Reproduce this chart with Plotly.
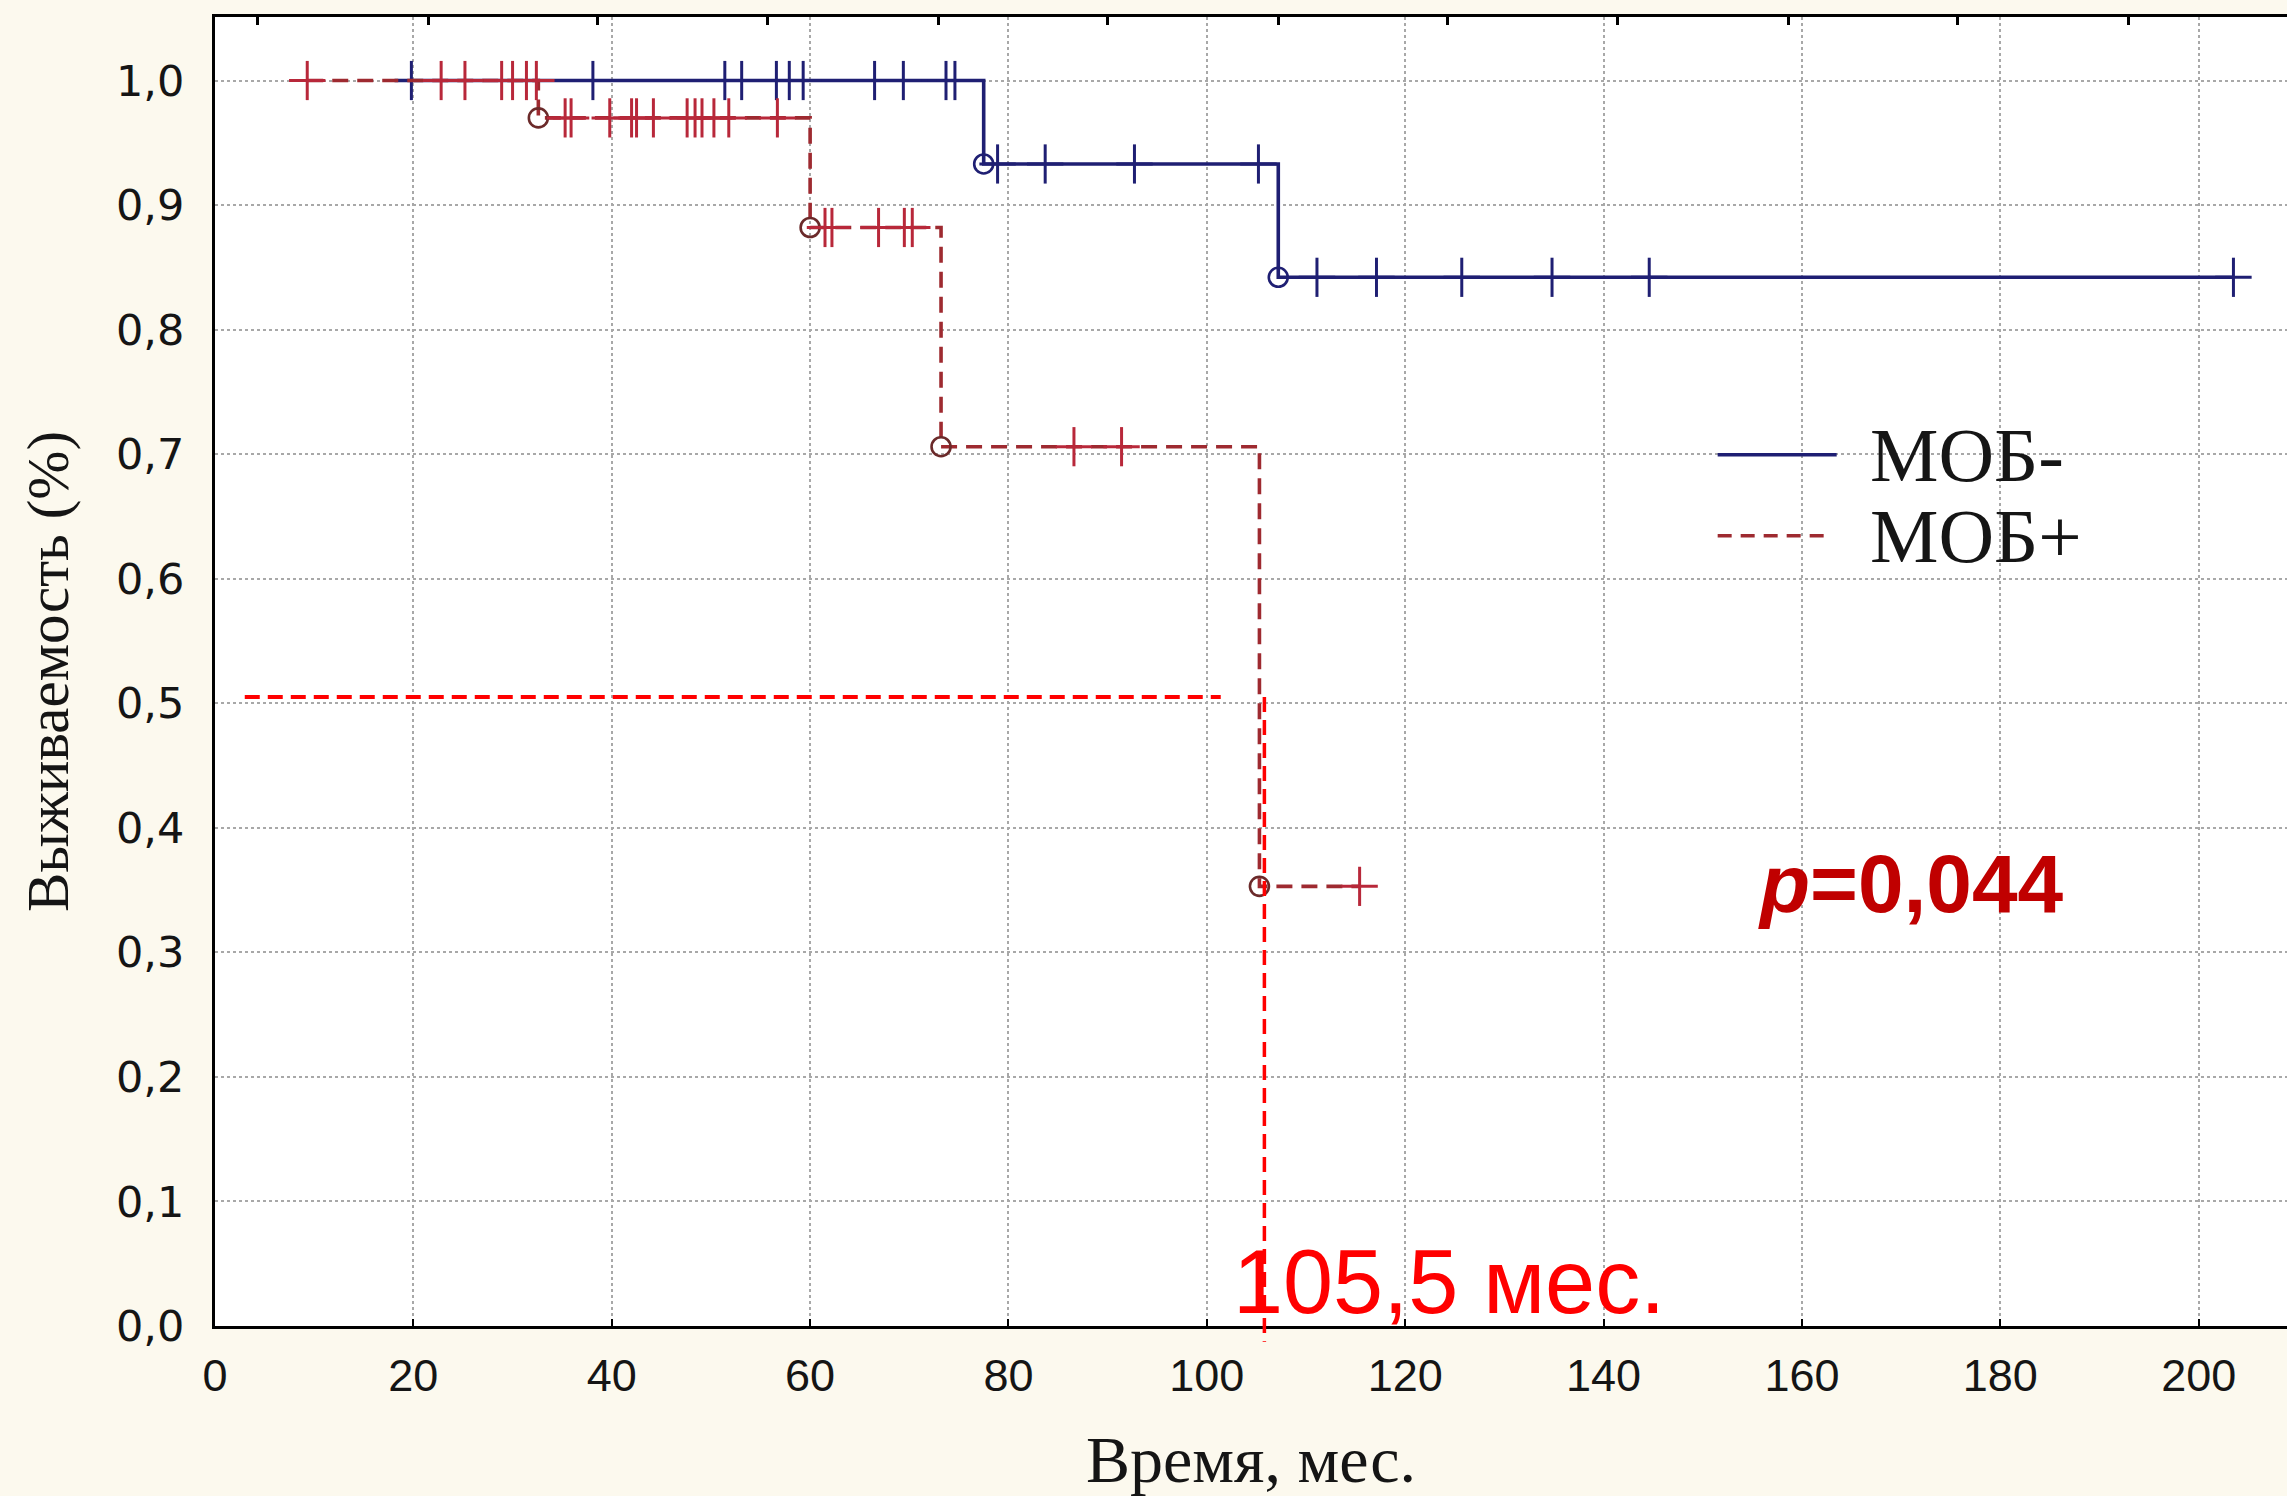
import plotly.graph_objects as go

# ---------------- data ----------------
# Kaplan-Meier step knots: first observation, event times, last observation
neg_knot_t = [18.1, 77.5, 107.2, 203.5]
neg_surv = [1.0, 0.933, 0.842, 0.842]
pos_knot_t = [9.3, 32.6, 60.0, 73.2, 105.3, 115.4]
pos_surv = [1.0, 0.970, 0.882, 0.706, 0.353, 0.353]

# censored observations (months)
neg_censored = [19.8, 38.1, 51.4, 53.1, 56.6, 57.9, 59.3, 66.5, 69.4, 73.7, 74.6,
                78.9, 83.7, 92.7, 105.2,
                111.1, 117.1, 125.7, 134.8, 144.6, 203.5]
pos_censored = [9.3, 22.8, 25.2, 28.9, 30.0, 31.4, 32.4,
                35.3, 35.9, 39.8, 42.0, 42.5, 44.2, 47.6, 48.4, 49.1, 50.3, 51.8, 56.7,
                61.5, 62.2, 66.9, 69.5, 70.3,
                86.6, 91.4,
                115.4]

group_names = ["МОБ-", "МОБ+"]
median_label = "105,5 мес."
median_line_x = 105.8
half_line_y = 0.505
half_line_x0 = 3.0
half_line_x1 = 101.4
p_text = "<b><i>p</i>=0,044</b>"

x_ticks = [0, 20, 40, 60, 80, 100, 120, 140, 160, 180, 200]
y_ticks = [0.0, 0.1, 0.2, 0.3, 0.4, 0.5, 0.6, 0.7, 0.8, 0.9, 1.0]
y_tick_text = ["0,0", "0,1", "0,2", "0,3", "0,4", "0,5", "0,6", "0,7", "0,8", "0,9", "1,0"]
top_tick_vals = [4.3, 21.5, 38.6, 55.7, 72.9, 90.0, 107.2, 124.3, 141.4, 158.6, 175.7, 192.9]

X_RANGE = [0, 208.9]
Y_RANGE = [0, 1.051]

NAVY = "#1F1F73"
RED_LINE = "#9E2A30"
RED_CROSS = "#B8283A"
RED_CIRCLE = "#6B2A2A"
PAGE_BG = "#FCF9EE"


def surv_at(t, knots, surv):
    val = surv[0]
    for k, s in zip(knots, surv):
        if k <= t:
            val = s
    return val


fig = go.Figure()

def add_group(knots, surv, cens, name, line_color, dash, cross_color, circle_color):
    fig.add_trace(go.Scatter(
        x=knots, y=surv, mode="lines", line_shape="hv", name=name,
        line=dict(color=line_color, width=3.6, dash=dash),
        showlegend=False, hoverinfo="skip"))
    fig.add_trace(go.Scatter(
        x=knots[1:-1], y=surv[1:-1], mode="markers", showlegend=False,
        marker=dict(symbol="circle-open", size=19, color=circle_color,
                    line=dict(width=2.6, color=circle_color)),
        hoverinfo="skip"))
    cy = [surv_at(t, knots, surv) for t in cens]
    fig.add_trace(go.Scatter(
        x=cens, y=cy, mode="markers", showlegend=False,
        marker=dict(symbol="line-ns-open", size=28, color=cross_color,
                    line=dict(width=3, color=cross_color)),
        hoverinfo="skip"))
    fig.add_trace(go.Scatter(
        x=cens, y=cy, mode="markers", showlegend=False,
        marker=dict(symbol="line-ew-open", size=26, color=cross_color,
                    line=dict(width=3, color=cross_color)),
        hoverinfo="skip"))

add_group(neg_knot_t, neg_surv, neg_censored, group_names[0], NAVY, "solid", NAVY, NAVY)
add_group(pos_knot_t, pos_surv, pos_censored, group_names[1], RED_LINE, "16px,9px",
          RED_CROSS, RED_CIRCLE)

# invisible trace to activate the top axis (tick marks only)
fig.add_trace(go.Scatter(x=[X_RANGE[0]], y=[Y_RANGE[0]], xaxis="x2", mode="markers",
                         marker=dict(opacity=0), showlegend=False, hoverinfo="skip"))

grid = dict(showgrid=True, gridcolor="#A8A8A8", gridwidth=2, griddash="dot")

fig.update_layout(
    width=2287, height=1496,
    margin=dict(l=215, r=0, t=17, b=170, autoexpand=False),
    paper_bgcolor=PAGE_BG,
    plot_bgcolor="#FFFFFF",
    showlegend=False,
    xaxis=dict(
        range=X_RANGE, tickvals=x_ticks, ticktext=[str(v) for v in x_ticks],
        automargin=False,
        showline=True, linecolor="black", linewidth=3, mirror=True,
        ticks="inside", ticklen=7, tickwidth=2, tickcolor="black",
        tickfont=dict(family="Liberation Sans, Arial", size=45, color="#151515"),
        ticklabelstandoff=8, zeroline=False,
        title=dict(text="Время, мес.", standoff=36,
                   font=dict(family="Liberation Serif, Times New Roman", size=66, color="#151515")),
        **grid),
    xaxis2=dict(
        range=X_RANGE, overlaying="x", side="top", showgrid=False, zeroline=False,
        automargin=False,
        tickvals=top_tick_vals, showticklabels=False, ticks="inside", ticklen=8,
        tickwidth=3, tickcolor="black", showline=False),
    yaxis=dict(
        range=Y_RANGE, tickvals=y_ticks, ticktext=y_tick_text,
        automargin=False,
        showline=True, linecolor="black", linewidth=3, mirror=False,
        ticks="", zeroline=False,
        tickfont=dict(family="DejaVu Sans, Verdana", size=43, color="#151515"),
        ticklabelstandoff=19,
        title=dict(text="Выживаемость (%)", standoff=29,
                   font=dict(family="Liberation Serif, Times New Roman", size=59, color="#151515")),
        **grid),
)

# legend drawn inside the plot as in the original
leg_x0, leg_x1, leg_text_x = 151.5, 163.5, 166.8
leg_y = [0.6996, 0.6345]
fig.add_shape(type="line", xref="x", yref="y", x0=leg_x0, x1=leg_x1, y0=leg_y[0], y1=leg_y[0],
              line=dict(color=NAVY, width=3.5))
fig.add_shape(type="line", xref="x", yref="y", x0=leg_x0, x1=leg_x1 - 0.6, y0=leg_y[1], y1=leg_y[1],
              line=dict(color=RED_LINE, width=3.5, dash="14px,9px"))
for name, yv in zip(group_names, leg_y):
    fig.add_annotation(x=leg_text_x, y=yv, xref="x", yref="y", text=name, showarrow=False,
                       xanchor="left", yanchor="middle", borderpad=0,
                       font=dict(family="Liberation Serif, Times New Roman", size=77, color="#151515"))

# median reference lines
fig.add_shape(type="line", xref="x", yref="y", x0=half_line_x0, x1=half_line_x1,
              y0=half_line_y, y1=half_line_y,
              line=dict(color="#FF0000", width=4, dash="15px,8px"))
fig.add_shape(type="line", xref="x", yref="paper", x0=median_line_x, x1=median_line_x,
              y0=half_line_y / Y_RANGE[1], y1=-0.012,
              line=dict(color="#FF0000", width=3.5, dash="15px,8px"))

fig.add_annotation(x=102.4, y=0.035, xref="x", yref="y", text=median_label, showarrow=False,
                   xanchor="left", yanchor="middle",
                   font=dict(family="Liberation Sans, Arial", size=90, color="#FF0000"))
fig.add_annotation(x=171.0, y=0.355, xref="x", yref="y", text=p_text, showarrow=False,
                   xanchor="center", yanchor="middle",
                   font=dict(family="Liberation Sans, Arial", size=82, color="#C00000"))

fig.write_html(
    "out.html",
    config={"displayModeBar": False},
    post_script=("document.body.style.margin='0';document.body.style.overflow='hidden';"
                 "document.body.style.background='" + PAGE_BG + "';"),
)
